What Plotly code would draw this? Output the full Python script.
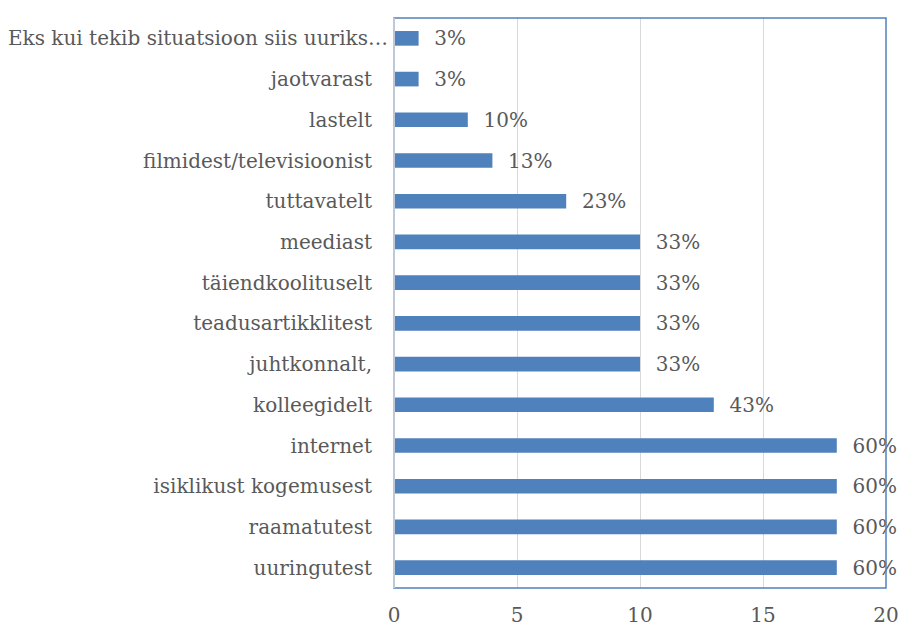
import plotly.graph_objects as go

categories = ["Eks kui tekib situatsioon siis uuriks…", "jaotvarast", "lastelt",
              "filmidest/televisioonist", "tuttavatelt", "meediast", "täiendkoolituselt",
              "teadusartikklitest", "juhtkonnalt,", "kolleegidelt", "internet",
              "isiklikust kogemusest", "raamatutest", "uuringutest"]
values = [1, 1, 3, 4, 7, 10, 10, 10, 10, 13, 18, 18, 18, 18]
labels = ["3%", "3%", "10%", "13%", "23%", "33%", "33%", "33%", "33%", "43%",
          "60%", "60%", "60%", "60%"]
x_ticks = [0, 5, 10, 15, 20]

FONT = "DejaVu Serif"
SIZE = 20
TXT = "#595959"
BLUE = "#4F81BD"

fig = go.Figure(go.Bar(
    y=categories, x=values, orientation="h",
    marker=dict(color=BLUE, line=dict(width=0)),
    width=0.36,
    text=["\u00a0\u00a0" + t for t in labels], textposition="outside",
    cliponaxis=False, constraintext="none",
    textfont=dict(family=FONT, size=SIZE, color=TXT),
))

# the truncated first label sits closer to the axis in the original
ticktext = [""] + categories[1:]
fig.add_annotation(x=0, xref="paper", y=categories[0], yref="y", text=categories[0],
                   showarrow=False, xanchor="right", xshift=-4,
                   font=dict(family=FONT, size=SIZE, color=TXT))

fig.update_layout(
    width=901, height=627,
    margin=dict(l=394, r=15, t=18, b=39, autoexpand=False),
    paper_bgcolor="white", plot_bgcolor="white",
    showlegend=False,
    font=dict(family=FONT, size=SIZE, color=TXT),
    xaxis=dict(range=[0, 20], tickvals=x_ticks, showgrid=True, gridcolor="#D9D9D9",
               gridwidth=1, zeroline=False, showline=False, ticks="", automargin=False,
               tickfont=dict(family=FONT, size=SIZE, color=TXT), ticklabelstandoff=13),
    yaxis=dict(autorange="reversed", showgrid=False, zeroline=False, showline=False,
               tickmode="array", tickvals=categories, ticktext=ticktext,
               ticks="", automargin=False, tickfont=dict(family=FONT, size=SIZE, color=TXT),
               ticklabelstandoff=21),
    shapes=[
        dict(type="rect", xref="paper", yref="paper", x0=0, x1=1, y0=0, y1=1,
             line=dict(color=BLUE, width=1.5), layer="above"),
        dict(type="line", xref="paper", yref="paper", x0=0, x1=0, y0=0, y1=1,
             line=dict(color="#BFC8D6", width=2), layer="above"),
    ],
)

fig.write_html("out.html", config={"displayModeBar": False},
               post_script="document.body.style.margin='0';")
